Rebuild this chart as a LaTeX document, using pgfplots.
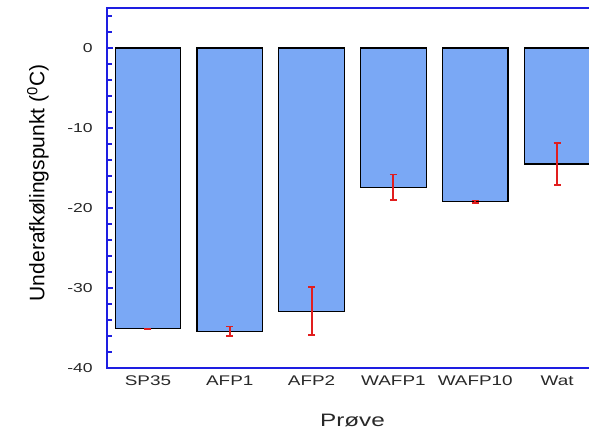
\documentclass[border=0pt]{standalone}
\usepackage{pgfplots}
\pgfplotsset{compat=1.18}
\usepackage{fontspec}
\setmainfont{Liberation Sans}
\newfontfamily\widefont[FakeStretch=1.35]{Liberation Sans}
\definecolor{axblue}{RGB}{30,30,225}
\definecolor{barfill}{RGB}{122,168,245}
\definecolor{errred}{RGB}{225,30,30}
\definecolor{lbl}{RGB}{40,40,40}

\begin{document}
\begin{tikzpicture}
\begin{axis}[
  name=ax,
  scale only axis,
  width=368.25pt, height=270pt,
  xmin=0.5, xmax=6.5,
  ymin=-40, ymax=5,
  ybar, bar width=0.8, bar shift=0pt,
  xtick={1,...,6},
  xticklabels={SP35,AFP1,AFP2,WAFP1,WAFP10,Wat},
  x tick style={draw=none},
  extra x ticks={1.5,2.5,3.5,4.5,5.5,6.5},
  extra x tick labels={},
  extra x tick style={tick style={draw=axblue, line width=1pt}, major tick length=5pt},
  ytick={-40,-30,-20,-10,0},
  yticklabels={-40,-30,-20,-10,0},
  minor ytick={-38,-36,...,4},
  y tick style={draw=axblue, line width=0.8pt},
  major tick length=4.5pt, minor tick length=4pt,
  tick align=inside,
  axis line style={draw=axblue, line width=1.1pt},
  xticklabel style={font=\widefont\fontsize{10.5pt}{12pt}\selectfont, text=lbl, anchor=base, yshift=-12.75pt},
  yticklabel style={font=\widefont\fontsize{9.75pt}{12pt}\selectfont, text=lbl, anchor=east, inner sep=0pt, xshift=-10.5pt},
  xlabel={Prøve},
  xlabel style={font=\widefont\fontsize{13.5pt}{16pt}\selectfont, text=lbl, at={(axis description cs:0.5,0)}, anchor=base, yshift=-43.5pt},
  ylabel={Underafkølingspunkt (\textsuperscript{0}C)},
  ylabel style={font=\fontsize{15.75pt}{18pt}\selectfont, text=black, at={(axis description cs:0,0.514)}, anchor=center, yshift=51.75pt},
  error bars/y dir=both,
  error bars/y explicit,
  error bars/error bar style={color=errred, line width=1.5pt},
  error bars/error mark options={rotate=90, color=errred, mark size=2.6pt, line width=1.2pt},
]
\addplot[fill=barfill, draw=black, line width=0.8pt]
  coordinates {
    (1,-35.1) +- (0,0.05)
    (2,-35.4) +- (0,0.6)
    (3,-32.9) +- (0,3.0)
    (4,-17.4) +- (0,1.6)
    (5,-19.2) +- (0,0.15)
    (6,-14.5) +- (0,2.65)
  };
\coordinate (O) at (rel axis cs:0,0);
\end{axis}
\pgfresetboundingbox
\path (O) ++(-80.25pt,-48.75pt) rectangle ++(441.75pt,324.75pt);
\end{tikzpicture}
\end{document}
